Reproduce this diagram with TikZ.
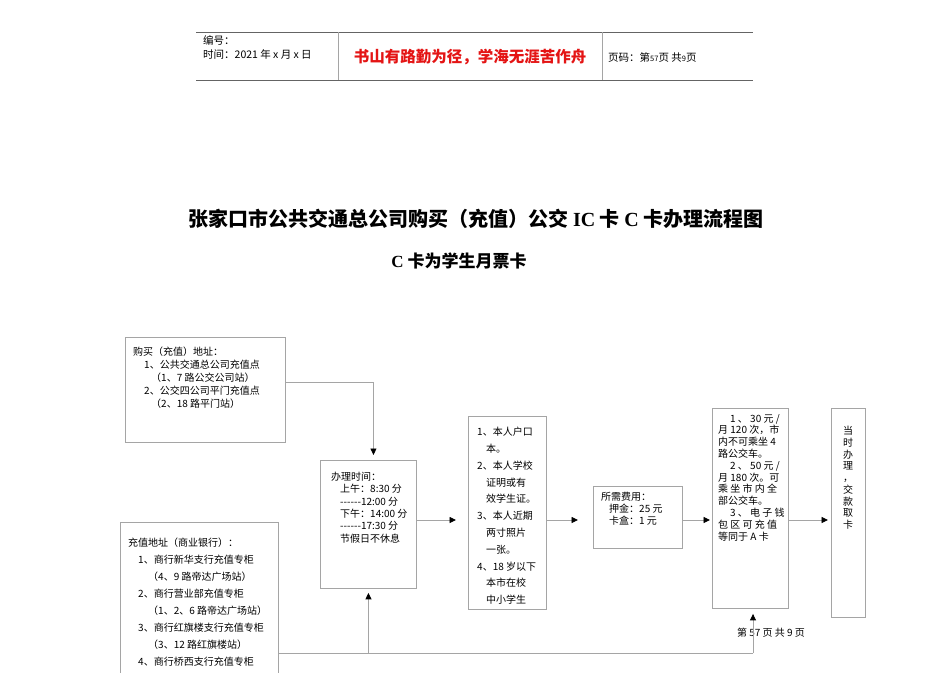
\documentclass[tikz,border=0pt]{standalone}
\usepackage{fontspec}
\setmainfont{Noto Sans CJK SC}
\newfontfamily\lat{Liberation Serif}
\usetikzlibrary{arrows.meta}

\definecolor{boxgray}{RGB}{165,165,165}
\definecolor{rulegray}{RGB}{100,100,100}
\definecolor{mottored}{RGB}{228,20,20}

\tikzset{
  stepframe/.style={draw=boxgray, line width=0.9pt, anchor=north west, inner sep=0pt},
  boxtext/.style={anchor=north west, inner sep=0pt, align=left, font=\fontsize{10}{#1}\selectfont},
  boxtext/.default=13,
  conn/.style={draw=boxgray, line width=0.9pt, -{Triangle[color=black, fill=black, length=6.5pt, width=6pt]}},
}

\begin{document}
\begin{tikzpicture}[x=1pt, y=-1pt]
    % Page area
    \useasboundingbox (0,0) rectangle (950,672);
    \clip (0,0) rectangle (950,672);
    \fill[white] (0,0) rectangle (950,672);

    % Header rules and cells
    \draw[rulegray, line width=1pt] (196,32) -- (753,32);
    \draw[rulegray, line width=1pt] (196,80) -- (753,80);
    \draw[boxgray, line width=0.9pt] (338,32) -- (338,80);
    \draw[boxgray, line width=0.9pt] (602,32) -- (602,80);
    \node[anchor=west, inner sep=0pt, font=\fontsize{10.5}{12}\selectfont] (serial) at (203,40) {编号：};
    \node[anchor=west, inner sep=0pt, font=\fontsize{10.5}{12}\selectfont] (date) at (203,54) {时间：2021 年 x 月 x 日};
    \node[inner sep=0pt, text=mottored, font=\fontsize{15.5}{17}\selectfont\bfseries] (motto) at (470,57) {书山有路勤为径，学海无涯苦作舟};
    \node[anchor=west, inner sep=0pt, font=\fontsize{10.5}{12}\selectfont] (pagecode) at (608,57) {页码：第{\fontsize{7.5}{8}\selectfont 57}页\ 共{\fontsize{7.5}{8}\selectfont 9}页};

    % Titles
    \node[inner sep=0pt, font=\fontsize{20}{22}\selectfont\bfseries] (title) at (476,219) {张家口市公共交通总公司购买（充值）公交 {\lat\bfseries IC} 卡 {\lat\bfseries C} 卡办理流程图};
    \node[inner sep=0pt, font=\fontsize{17}{19}\selectfont\bfseries] (subtitle) at (459,261) {{\lat\bfseries C} 卡为学生月票卡};

    % Frames of the flow steps
    \node[stepframe, minimum width=160pt, minimum height=105pt] (buy) at (125,337) {};
    \node[stepframe, minimum width=96pt, minimum height=128pt] (hours) at (320,460) {};
    \node[stepframe, minimum width=78pt, minimum height=193pt] (docs) at (468,416) {};
    \node[stepframe, minimum width=89pt, minimum height=62pt] (fee) at (593,486) {};
    \node[stepframe, minimum width=76pt, minimum height=200pt] (card) at (712,408) {};
    \node[stepframe, minimum width=34pt, minimum height=209pt] (now) at (831,408) {};
    \node[stepframe, minimum width=158pt, minimum height=180pt] (recharge) at (120,522) {};

    % Texts inside the frames
    \node[boxtext] (buytext) at (133,347) {购买（充值）地址：\\
\hspace*{11pt}1、公共交通总公司充值点\\
\hspace*{18pt}（1、7 路公交公司站）\\
\hspace*{11pt}2、公交四公司平门充值点\\
\hspace*{18pt}（2、18 路平门站）};

    \node[boxtext=12.3] (hourstext) at (331,472) {办理时间：\\
\hspace*{9pt}上午：8:30 分\\
\hspace*{9pt}-{}-{}-{}-{}-{}-12:00 分\\
\hspace*{9pt}下午：14:00 分\\
\hspace*{9pt}-{}-{}-{}-{}-{}-17:30 分\\
\hspace*{9pt}节假日不休息};

    \node[boxtext=16.8] (docstext) at (477,427) {1、本人户口\\
\hspace*{9pt}本。\\
2、本人学校\\
\hspace*{9pt}证明或有\\
\hspace*{9pt}效学生证。\\
3、本人近期\\
\hspace*{9pt}两寸照片\\
\hspace*{9pt}一张。\\
4、18 岁以下\\
\hspace*{9pt}本市在校\\
\hspace*{9pt}中小学生};

    \node[boxtext=12] (feetext) at (601,492) {所需费用：\\
\hspace*{8pt}押金：25 元\\
\hspace*{8pt}卡盒：1 元};

    \node[boxtext=11.8] (cardtext) at (718,414) {\hspace*{12pt}1 、 30 元 /\\
月 120 次，市\\
内不可乘坐 4\\
路公交车。\\
\hspace*{12pt}2 、 50 元 /\\
月 180 次。可\\
乘 坐 市 内 全\\
部公交车。\\
\hspace*{12pt}3 、 电 子 钱\\
包 区 可 充 值\\
等同于 A 卡};

    \node[anchor=north, inner sep=0pt, align=center, font=\fontsize{10}{11.75}\selectfont] (nowtext) at (848,426) {当\\时\\办\\理\\，\\交\\款\\取\\卡};

    \node[boxtext=17] (rechargetext) at (128,538) {充值地址（商业银行）：\\
\hspace*{10pt}1、商行新华支行充值专柜\\
\hspace*{20pt}（4、9 路帝达广场站）\\
\hspace*{10pt}2、商行营业部充值专柜\\
\hspace*{20pt}（1、2、6 路帝达广场站）\\
\hspace*{10pt}3、商行红旗楼支行充值专柜\\
\hspace*{20pt}（3、12 路红旗楼站）\\
\hspace*{10pt}4、商行桥西支行充值专柜};

    % Page number under the flow
    \node[inner sep=0pt, font=\fontsize{10}{12}\selectfont] (pageno) at (771,633) {第 57 页 共 9 页};

    % Connectors
    \coordinate (row) at (0,520);
    \coordinate (busline) at (0,653);
    \coordinate (busend) at (753,653);
    \draw[conn] ([yshift=8pt]buy.east) -| ([xshift=5pt, yshift=5pt]hours.north);
    \draw[conn, shorten >=12pt] (hours.east |- row) -- (docs.west |- row);
    \draw[conn, shorten >=15pt] (docs.east |- row) -- (fee.west |- row);
    \draw[conn, shorten >=2pt] (fee.east |- row) -- (card.west |- row);
    \draw[conn, shorten >=3pt] (card.east |- row) -- (now.west |- row);
    \draw[boxgray, line width=0.9pt] (recharge.east |- busline) -- (busend);
    \draw[conn, shorten >=5pt] (busend) -- (busend |- card.south);
    \draw[conn, shorten >=4pt] (hours.south |- busline) -- (hours.south);
\end{tikzpicture}
\end{document}
